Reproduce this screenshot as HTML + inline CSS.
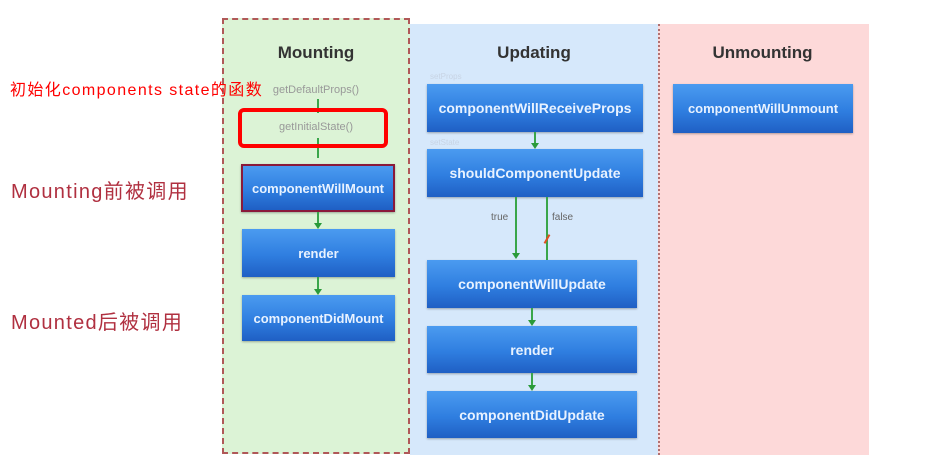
<!DOCTYPE html>
<html><head><meta charset="utf-8"><style>
body{margin:0;width:949px;height:467px;background:#fff;position:relative;overflow:hidden;font-family:"Liberation Sans","Noto Sans CJK SC",sans-serif}
.a{position:absolute}
.box{position:absolute;background:linear-gradient(#4b9bf0,#2f7ee0 55%,#1f5fc4);color:#e8f2ff;font-weight:bold;font-size:14px;display:flex;align-items:center;justify-content:center;box-shadow:0 1px 2px rgba(0,0,0,.3);white-space:nowrap}
.m{font-size:13px}
.h{position:absolute;font-weight:bold;font-size:17px;color:#333;text-align:center}
.g{position:absolute;width:2px;background:#3aa64a}
.ar{position:absolute;width:0;height:0;border-left:4px solid transparent;border-right:4px solid transparent;border-top:6px solid #2a9a3a}
.s{position:absolute;font-size:8px;color:#c8d4e4}
</style></head><body>
<div class="a" style="left:222px;top:18px;width:188px;height:436px;background:#dcf3d6;border:2px dashed #b05858;box-sizing:border-box"></div>
<div class="a" style="left:410px;top:24px;width:248px;height:431px;background:#d6e8fb"></div>
<div class="a" style="left:658px;top:24px;width:209px;height:431px;background:#fdd9d9;border-left:2px dotted #b07070"></div>
<div class="h" style="left:222px;top:43px;width:188px">Mounting</div>
<div class="h" style="left:410px;top:43px;width:248px">Updating</div>
<div class="h" style="left:658px;top:43px;width:209px">Unmounting</div>

<div class="a" style="left:10px;top:76px;font-size:16px;letter-spacing:1.4px;color:#f00;white-space:nowrap">初始化components state的函数</div>
<div class="a" style="left:11px;top:175px;font-size:20px;letter-spacing:1.3px;color:#b03040;white-space:nowrap">Mounting前被调用</div>
<div class="a" style="left:11px;top:306px;font-size:20px;letter-spacing:1.3px;color:#b03040;white-space:nowrap">Mounted后被调用</div>

<div class="a" style="left:222px;top:84px;width:188px;text-align:center;font-size:11px;color:#999">getDefaultProps()</div>
<div class="a" style="left:222px;top:121px;width:188px;text-align:center;font-size:11px;color:#999">getInitialState()</div>
<div class="g" style="left:317px;top:99px;height:14px"></div>
<div class="g" style="left:317px;top:138px;height:20px"></div>
<div class="a" style="left:238px;top:108px;width:150px;height:40px;border:4px solid #f00;border-radius:6px;box-sizing:border-box"></div>

<div class="box m" style="left:241px;top:164px;width:154px;height:48px;border:2px solid #8a1a3a;box-sizing:border-box">componentWillMount</div>
<div class="g" style="left:317px;top:212px;height:14px"></div><div class="ar" style="left:314px;top:223px"></div>
<div class="box m" style="left:242px;top:229px;width:153px;height:48px">render</div>
<div class="g" style="left:317px;top:277px;height:15px"></div><div class="ar" style="left:314px;top:289px"></div>
<div class="box m" style="left:242px;top:295px;width:153px;height:46px">componentDidMount</div>

<div class="s" style="left:430px;top:72px">setProps</div>
<div class="box" style="left:427px;top:84px;width:216px;height:48px">componentWillReceiveProps</div>
<div class="s" style="left:430px;top:138px">setState</div>
<div class="g" style="left:534px;top:132px;height:14px"></div><div class="ar" style="left:531px;top:143px"></div>
<div class="box" style="left:427px;top:149px;width:216px;height:48px">shouldComponentUpdate</div>
<div class="g" style="left:515px;top:197px;height:60px"></div><div class="ar" style="left:512px;top:253px"></div>
<div class="g" style="left:546px;top:197px;height:63px"></div>
<div class="a" style="left:542px;top:238px;width:10px;height:2px;background:#e05020;transform:rotate(-60deg)"></div>
<div class="a" style="left:491px;top:212px;font-size:10px;color:#666">true</div>
<div class="a" style="left:552px;top:212px;font-size:10px;color:#666">false</div>
<div class="box" style="left:427px;top:260px;width:210px;height:48px">componentWillUpdate</div>
<div class="g" style="left:531px;top:308px;height:15px"></div><div class="ar" style="left:528px;top:320px"></div>
<div class="box" style="left:427px;top:326px;width:210px;height:47px">render</div>
<div class="g" style="left:531px;top:373px;height:15px"></div><div class="ar" style="left:528px;top:385px"></div>
<div class="box" style="left:427px;top:391px;width:210px;height:47px">componentDidUpdate</div>

<div class="box m" style="left:673px;top:84px;width:180px;height:49px">componentWillUnmount</div>
</body></html>
